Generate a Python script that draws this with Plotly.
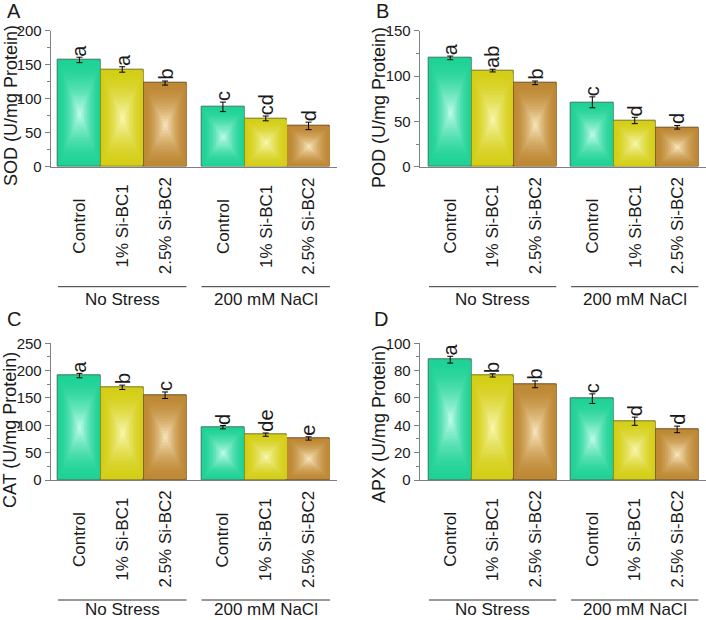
import plotly.graph_objects as go

# ---------------- data ----------------
categories = ["Control", "1% Si-BC1", "2.5% Si-BC2"]
groups = ["No Stress", "200 mM NaCl"]

sod_values = [157, 143, 123, 88, 71, 60]
sod_errors = [4, 4, 3, 7, 3.5, 5.5]
sod_letters = ["a", "a", "b", "c", "cd", "d"]

pod_values = [120, 106, 92.5, 71, 51, 43.5]
pod_errors = [2, 1.5, 2, 6, 3.5, 2]
pod_letters = ["a", "ab", "b", "c", "d", "d"]

cat_values = [191, 169.5, 155, 96.5, 83, 76]
cat_errors = [4, 4, 6, 3, 3, 3]
cat_letters = ["a", "b", "c", "d", "de", "e"]

apx_values = [88, 76.5, 70, 59.5, 43, 37]
apx_errors = [2.5, 1.2, 2.5, 3.5, 3, 2.4]
apx_letters = ["a", "b", "b", "c", "d", "d"]

y_titles = ["SOD (U/mg Protein)", "POD (U/mg Protein)",
            "CAT (U/mg Protein)", "APX (U/mg Protein)"]
panel_tags = ["A", "B", "C", "D"]
y_max = [200, 150, 250, 100]
y_dtick = [50, 50, 50, 20]

# ---------------- style ----------------
W, H = 706, 620
FONT = "Arial, Liberation Sans, sans-serif"
TXT = "#1a1a1a"
AX = "#7f7f7f"
GAP = 0.35
edge_cols = [(30, 210, 150), (212, 206, 22), (190, 136, 52)]
center_cols = [(195, 252, 235), (250, 248, 180), (250, 232, 192)]
line_cols = [(60, 120, 95), (120, 118, 30), (110, 80, 30)]

xs = [g * (3 + GAP) + i for g in range(len(groups)) for i in range(len(categories))]

def fx(p):
    return p / W

def fy(p):
    return 1 - p / H

def rgb(c):
    return "rgb(%d,%d,%d)" % tuple(int(round(v)) for v in c)

def mix(a, b, t):
    return tuple(a[j] + (b[j] - a[j]) * t for j in range(3))

# panel geometry in page pixels: (x_left, x_right, y_top, y_bottom), x range
panels = [
    dict(vals=sod_values, errs=sod_errors, lets=sod_letters,
         box=(50.7, 337, 30.7, 166.7), xr=(-0.671, 6.014), tag=(14, 11), tpos=(11, 106)),
    dict(vals=pod_values, errs=pod_errors, lets=pod_letters,
         box=(419.7, 706, 30.7, 166.7), xr=(-0.72, 6.03), tag=(382, 11), tpos=(379, 108)),
    dict(vals=cat_values, errs=cat_errors, lets=cat_letters,
         box=(50.7, 337, 343.3, 480), xr=(-0.671, 6.014), tag=(14, 319), tpos=(10, 430)),
    dict(vals=apx_values, errs=apx_errors, lets=apx_letters,
         box=(419.7, 706, 343.3, 480), xr=(-0.72, 6.03), tag=(381, 319), tpos=(379, 424)),
]

fig = go.Figure()
annotations = []
shapes = []
layout = {}
NL = 28

for p_i, pan in enumerate(panels):
    n = "" if p_i == 0 else str(p_i + 1)
    xa, ya = "x" + n, "y" + n
    vals, errs = pan["vals"], pan["errs"]
    # gradient bars: concentric scaled rectangles
    for k in range(NL):
        s = 1 - k / NL
        t = (1 - s) ** 1.7
        cols = [rgb(mix(edge_cols[i % 3], center_cols[i % 3], t)) for i in range(len(vals))]
        fig.add_trace(go.Bar(
            x=xs, y=[v * s for v in vals], base=[v * (1 - s) / 2 for v in vals],
            width=s, xaxis=xa, yaxis=ya, showlegend=False, hoverinfo="skip",
            marker=dict(color=cols,
                        line=dict(width=1 if k == 0 else 0,
                                  color=[rgb(line_cols[i % 3]) for i in range(len(vals))]))))
    # error bars
    fig.add_trace(go.Scatter(
        x=xs, y=vals, mode="markers", xaxis=xa, yaxis=ya, showlegend=False,
        hoverinfo="skip", marker=dict(size=1, color="rgba(0,0,0,0)"),
        error_y=dict(type="data", array=errs, color="black", thickness=1, width=3)))

    x0, x1, yt, yb = pan["box"]
    layout["xaxis" + n] = dict(domain=[fx(x0), fx(x1)], range=list(pan["xr"]), anchor=ya,
                               showline=True, linecolor=AX, linewidth=1, ticks="",
                               showticklabels=False, showgrid=False, zeroline=False,
                               automargin=False)
    layout["yaxis" + n] = dict(domain=[fy(yb), fy(yt)], range=[0, y_max[p_i]], anchor=xa,
                               showline=True, linecolor=AX, linewidth=1, ticks="outside",
                               ticklen=5, tickcolor=AX, dtick=y_dtick[p_i],
                               tickfont=dict(size=15, color=TXT, family=FONT),
                               showgrid=False, zeroline=False, automargin=False,
                               minor=dict(ticks="outside", ticklen=3, tickcolor=AX,
                                          dtick=y_dtick[p_i] / 2, showgrid=False))
    # significance letters
    for i, v in enumerate(vals):
        annotations.append(dict(x=xs[i], y=v + errs[i], xref=xa, yref=ya, text=pan["lets"][i],
                                textangle=-90, showarrow=False, xanchor="center",
                                yanchor="bottom", yshift=-1,
                                font=dict(size=20, color=TXT, family=FONT)))
    # category labels
    for i in range(len(xs)):
        annotations.append(dict(x=xs[i], y=fy(yb + 59.5), xref=xa, yref="paper",
                                text=categories[i % 3], textangle=-90, showarrow=False,
                                xanchor="center", yanchor="middle",
                                font=dict(size=17, color=TXT, family=FONT)))
    # group lines + labels
    for g, gname in enumerate(groups):
        gx = g * (3 + GAP)
        shapes.append(dict(type="line", xref=xa, yref="paper", x0=gx - 0.5, x1=gx + 2.5,
                           y0=fy(yb + 120), y1=fy(yb + 120), line=dict(color="#333", width=1)))
        annotations.append(dict(x=gx + 1, y=fy(min(yb + 132.5, H - 11)), xref=xa, yref="paper",
                                text=gname, showarrow=False, xanchor="center", yanchor="middle",
                                font=dict(size=17, color=TXT, family=FONT)))
    # panel tag
    annotations.append(dict(x=fx(pan["tag"][0]), y=fy(pan["tag"][1]), xref="paper", yref="paper",
                            text=panel_tags[p_i], showarrow=False, xanchor="center",
                            yanchor="middle", font=dict(size=20, color=TXT, family=FONT)))
    # y title
    annotations.append(dict(x=fx(pan["tpos"][0]), y=fy(pan["tpos"][1]), xref="paper", yref="paper",
                            text=y_titles[p_i], textangle=-90, showarrow=False,
                            xanchor="center", yanchor="middle",
                            font=dict(size=18, color=TXT, family=FONT)))

fig.update_layout(width=W, height=H,
                  margin=dict(l=0, r=0, t=0, b=0, pad=0, autoexpand=False),
                  paper_bgcolor="white", plot_bgcolor="white", barmode="overlay",
                  bargap=0, showlegend=False, font=dict(family=FONT, color=TXT),
                  annotations=annotations, shapes=shapes, **layout)

# remove the page's default body margin so the 706x620 figure fills the window
fig.write_html("out.html", config={"displayModeBar": False},
               post_script="document.body.style.margin='0px';")
